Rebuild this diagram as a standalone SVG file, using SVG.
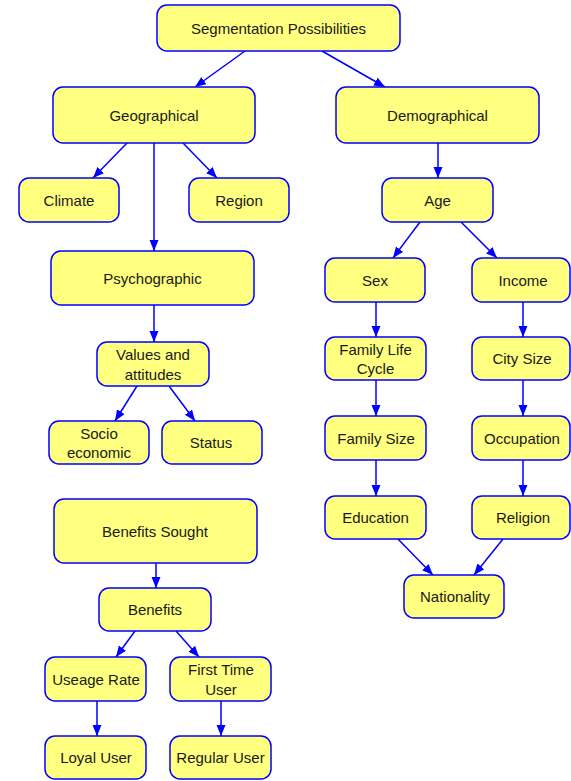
<svg xmlns="http://www.w3.org/2000/svg" width="571" height="781" viewBox="0 0 571 781">
<style>
.n rect{fill:#ffff80;stroke:#0000ff;stroke-width:1.5}
.n text{font-family:"Liberation Sans",Arial,sans-serif;font-size:15px;fill:#1a1a1a;text-anchor:middle;dominant-baseline:central}
#edges line{stroke:#0000ff;stroke-width:1.5;marker-end:url(#ah)}
</style>
<defs>
<marker id="ah" markerUnits="userSpaceOnUse" markerWidth="12" markerHeight="10" refX="11" refY="4.5" orient="auto">
<path d="M0,0 L11,4.5 L0,9 Z" fill="#0000ff"/>
</marker>
</defs>
<rect width="571" height="781" fill="#ffffff"/>
<g id="edges">
<line x1="245" y1="51" x2="195" y2="87"/>
<line x1="322" y1="51" x2="385" y2="87"/>
<line x1="127" y1="143" x2="93" y2="178"/>
<line x1="183" y1="143" x2="217" y2="178"/>
<line x1="154" y1="143" x2="154" y2="251"/>
<line x1="438" y1="143" x2="438" y2="178"/>
<line x1="420" y1="222" x2="393" y2="258"/>
<line x1="461" y1="222" x2="497" y2="258"/>
<line x1="376" y1="302" x2="376" y2="337"/>
<line x1="523" y1="302" x2="523" y2="337"/>
<line x1="376" y1="380" x2="376" y2="416"/>
<line x1="523" y1="380" x2="523" y2="416"/>
<line x1="376" y1="460" x2="376" y2="496"/>
<line x1="523" y1="460" x2="523" y2="496"/>
<line x1="398" y1="539" x2="433" y2="575"/>
<line x1="503" y1="539" x2="474" y2="575"/>
<line x1="154" y1="305" x2="154" y2="342"/>
<line x1="137" y1="386" x2="115" y2="421"/>
<line x1="169" y1="386" x2="195" y2="421"/>
<line x1="156" y1="563" x2="156" y2="588"/>
<line x1="135" y1="631" x2="116" y2="657"/>
<line x1="176" y1="631" x2="199" y2="657"/>
<line x1="97" y1="701" x2="97" y2="736"/>
<line x1="221" y1="701" x2="221" y2="736"/>
</g>
<g id="segmentation" class="n"><rect x="157" y="5" width="243" height="46" rx="10"/><text x="278.5" y="28">Segmentation Possibilities</text></g>
<g id="geographical" class="n"><rect x="53" y="87" width="202" height="56" rx="10"/><text x="154" y="115">Geographical</text></g>
<g id="demographical" class="n"><rect x="336" y="87" width="203" height="56" rx="10"/><text x="437.5" y="115">Demographical</text></g>
<g id="climate" class="n"><rect x="19" y="178" width="100" height="44" rx="10"/><text x="69" y="200">Climate</text></g>
<g id="region" class="n"><rect x="189" y="178" width="100" height="44" rx="10"/><text x="239" y="200">Region</text></g>
<g id="age" class="n"><rect x="382" y="178" width="111" height="44" rx="10"/><text x="437.5" y="200">Age</text></g>
<g id="psychographic" class="n"><rect x="51" y="251" width="203" height="54" rx="10"/><text x="152.5" y="278">Psychographic</text></g>
<g id="sex" class="n"><rect x="325" y="258" width="100" height="44" rx="10"/><text x="375" y="280">Sex</text></g>
<g id="income" class="n"><rect x="472" y="258" width="98" height="44" rx="10"/><text x="523" y="280">Income</text></g>
<g id="values" class="n"><rect x="97" y="342" width="112" height="44" rx="10"/><text x="153" y="354">Values and</text><text x="153" y="374">attitudes</text></g>
<g id="familylife" class="n"><rect x="325" y="337" width="101" height="43" rx="10"/><text x="375.5" y="349">Family Life</text><text x="375.5" y="368">Cycle</text></g>
<g id="citysize" class="n"><rect x="472" y="337" width="98" height="43" rx="10"/><text x="522" y="358.5">City Size</text></g>
<g id="familysize" class="n"><rect x="325" y="416" width="101" height="44" rx="10"/><text x="376" y="438">Family Size</text></g>
<g id="occupation" class="n"><rect x="472" y="416" width="98" height="44" rx="10"/><text x="522" y="438">Occupation</text></g>
<g id="socio" class="n"><rect x="49" y="421" width="100" height="43" rx="10"/><text x="99" y="433">Socio</text><text x="99" y="452">economic</text></g>
<g id="status" class="n"><rect x="162" y="421" width="100" height="43" rx="10"/><text x="211" y="442.5">Status</text></g>
<g id="education" class="n"><rect x="325" y="496" width="101" height="43" rx="10"/><text x="375.5" y="517.5">Education</text></g>
<g id="religion" class="n"><rect x="472" y="496" width="98" height="43" rx="10"/><text x="523" y="517.5">Religion</text></g>
<g id="nationality" class="n"><rect x="404" y="575" width="100" height="43" rx="10"/><text x="455" y="596.5">Nationality</text></g>
<g id="benefitssought" class="n"><rect x="54" y="499" width="203" height="64" rx="10"/><text x="155" y="531">Benefits Sought</text></g>
<g id="benefits" class="n"><rect x="99" y="588" width="112" height="43" rx="10"/><text x="155" y="609.5">Benefits</text></g>
<g id="useage" class="n"><rect x="45" y="657" width="101" height="44" rx="10"/><text x="96" y="679">Useage Rate</text></g>
<g id="firsttime" class="n"><rect x="170" y="657" width="101" height="44" rx="10"/><text x="221" y="669">First Time</text><text x="221" y="689">User</text></g>
<g id="loyal" class="n"><rect x="45" y="736" width="101" height="43" rx="10"/><text x="96" y="757.5">Loyal User</text></g>
<g id="regular" class="n"><rect x="170" y="736" width="101" height="43" rx="10"/><text x="220.5" y="757.5">Regular User</text></g>
</svg>
